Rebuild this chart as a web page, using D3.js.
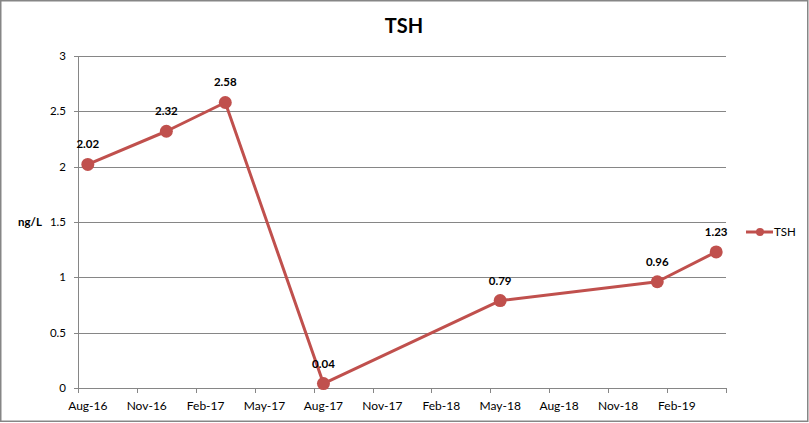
<!DOCTYPE html>
<html><head><meta charset="utf-8">
<script src="https://cdn.jsdelivr.net/npm/d3@7"></script>
<style>body{margin:0;background:#fff}svg{display:block}</style>
</head><body>
<svg id="c" width="809" height="423"></svg>
<script>
const months = ["2016-08","2016-12","2017-03","2017-08","2018-05","2019-01","2019-04"];
const values = [2.02,2.32,2.58,0.04,0.79,0.96,1.23];
const yTicks = [0,0.5,1,1.5,2,2.5,3];
const axisStart = "2016-08", axisEnd = "2019-05";
const seriesName = "TSH", title = "TSH", yLabel = "ng/L";

const parse = d3.timeParse("%Y-%m");
const fmtKey = d3.timeFormat("%Y-%m");
const fmtLbl = d3.timeFormat("%b-%y");
const slots = d3.timeMonth.range(parse(axisStart), parse(axisEnd)).map(fmtKey);

const svg = d3.select("#c");
const font = "Lato, 'Open Sans', sans-serif";
const red = "#C0504D";
const L = 78, R = 726, T = 56, B = 388;

svg.append("rect").attr("x",0.75).attr("y",0.75).attr("width",807).attr("height",420.5)
  .attr("fill","#fff").attr("stroke","#868686").attr("stroke-width",1.5);

const x = d3.scaleBand().domain(slots).range([L,R]).paddingInner(0).paddingOuter(0);
const y = d3.scaleLinear().domain([0,3]).range([B,T]);

// gridlines
svg.append("g").selectAll("line").data(yTicks).join("line")
  .attr("x1",L-4).attr("x2",R).attr("y1",d=>Math.round(y(d))+0.5).attr("y2",d=>Math.round(y(d))+0.5)
  .attr("stroke","#868686").attr("stroke-width",1);
// y axis line
svg.append("line").attr("x1",L+0.5).attr("x2",L+0.5).attr("y1",T).attr("y2",B+0.5)
  .attr("stroke","#868686");
// y tick labels
svg.append("g").selectAll("text").data(yTicks).join("text")
  .attr("x",66).attr("y",d=>y(d)+4).attr("text-anchor","end")
  .attr("font-family",font).attr("font-size",11.5).attr("fill","#000").text(d=>d);

// x ticks every 3 months
const labelSlots = slots.filter((d,i)=>i%3===0);
const tickPos = labelSlots.map(d=>x(d)).concat([R]);
svg.append("g").selectAll("line").data(tickPos).join("line")
  .attr("x1",d=>Math.round(d)+0.5).attr("x2",d=>Math.round(d)+0.5).attr("y1",B).attr("y2",B+5)
  .attr("stroke","#868686");
svg.append("g").selectAll("text").data(labelSlots).join("text")
  .attr("x",d=>x(d)+x.bandwidth()/2).attr("y",410).attr("text-anchor","middle")
  .attr("font-family",font).attr("font-size",12).attr("fill","#000")
  .text(d=>fmtLbl(parse(d)));

// title & y label
svg.append("text").attr("x",404).attr("y",33).attr("text-anchor","middle")
  .attr("font-family",font).attr("font-weight","bold").attr("font-size",20).text(title);
svg.append("text").attr("x",18).attr("y",226)
  .attr("font-family",font).attr("font-weight","bold").attr("font-size",11.5).text(yLabel);

// series
const data = months.map((m,i)=>({m, v:values[i]}));
const cx = d=>x(d.m)+x.bandwidth()/2;
svg.append("path").datum(data)
  .attr("d",d3.line().x(cx).y(d=>y(d.v)))
  .attr("fill","none").attr("stroke",red).attr("stroke-width",3).attr("stroke-linejoin","round");
svg.append("g").selectAll("circle").data(data).join("circle")
  .attr("cx",cx).attr("cy",d=>y(d.v)).attr("r",6.5).attr("fill",red);
svg.append("g").selectAll("text").data(data).join("text")
  .attr("x",cx).attr("y",d=>y(d.v)-16).attr("text-anchor","middle")
  .attr("font-family",font).attr("font-weight","bold").attr("font-size",11.5).text(d=>d.v.toFixed(2));

// legend
svg.append("line").attr("x1",746).attr("x2",773).attr("y1",232).attr("y2",232)
  .attr("stroke",red).attr("stroke-width",3);
svg.append("circle").attr("cx",760).attr("cy",232).attr("r",4).attr("fill",red);
svg.append("text").attr("x",774).attr("y",236).attr("font-family",font).attr("font-size",11.5).text(seriesName);
</script>
</body></html>
